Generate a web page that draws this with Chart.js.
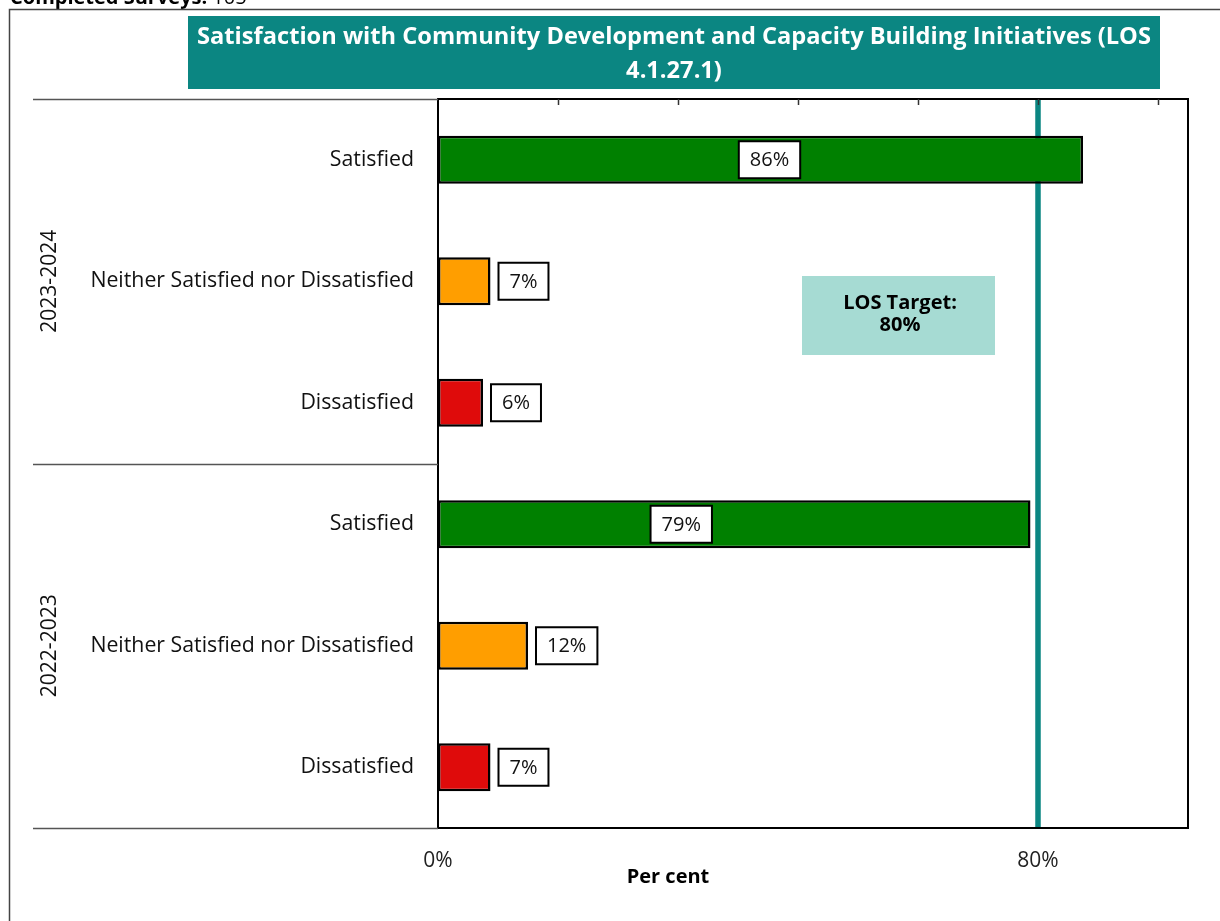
<!DOCTYPE html>
<html>
<head>
<meta charset="utf-8">
<script src="https://cdn.jsdelivr.net/npm/chart.js@4.4.1/dist/chart.umd.min.js"></script>
<style>
  html, body { margin: 0; padding: 0; background: #fff; overflow: hidden; }
  #wrap { width: 1220px; height: 921px; position: relative; }
  canvas { display: block; }
</style>
</head>
<body>
<div id="wrap"><canvas id="chart" width="1220" height="921"></canvas></div>
<script>
// Survey results, one row per response category, newest period first
const categories = [
  'Satisfied', 'Neither Satisfied nor Dissatisfied', 'Dissatisfied',
  'Satisfied', 'Neither Satisfied nor Dissatisfied', 'Dissatisfied'
];
const periods = ['2023-2024', '2022-2023'];
const categoriesPerPeriod = 3;
const shares = [86, 7, 6, 79, 12, 7];
const barColors = ['#008000', '#ff9e00', '#df0b0b', '#008000', '#ff9e00', '#df0b0b'];
const targetValue = 80;
const xTickValues = [0, 16, 32, 48, 64, 80, 96];
const xTickLabels = { 0: '0%', 80: '80%' };
const titleLines = ['Satisfaction with Community Development and Capacity Building Initiatives (LOS', '4.1.27.1)'];
const targetLines = ['LOS Target:', '80%'];
const surveyLabel = 'Completed Surveys:';
const surveyCount = '105';

const FONT = '"Open Sans", "Noto Sans", sans-serif';
const TEAL = '#0b8682';

// nudges (px) for value boxes that sit inside long bars
const insideLabelShift = { 0: 9, 3: -53 };

// pick a font size so that a text run fills a given width
function fitSize(text, weight, width) {
  const c = document.createElement('canvas').getContext('2d');
  c.font = weight + ' 20px ' + FONT;
  return 20 * width / c.measureText(text).width;
}
const catSize = Math.min(21.3, fitSize('Neither Satisfied nor Dissatisfied', 'normal', 324));
const titleSize = fitSize(titleLines[0], 'bold', 954);

const decorations = {
  id: 'decorations',
  beforeDraw(chart) {
    const ctx = chart.ctx;
    ctx.save();
    ctx.fillStyle = '#fff';
    ctx.fillRect(0, 0, chart.width, chart.height);

    // survey count heading (clipped by the top of the page)
    ctx.fillStyle = '#000';
    ctx.textBaseline = 'alphabetic';
    ctx.textAlign = 'left';
    ctx.font = 'bold 20px ' + FONT;
    ctx.fillText(surveyLabel, 10, 4);
    const w = ctx.measureText(surveyLabel + ' ').width;
    ctx.font = '20px ' + FONT;
    ctx.fillText(surveyCount, 10 + w, 4);

    // outer frame
    ctx.strokeStyle = '#444';
    ctx.lineWidth = 1.5;
    ctx.beginPath();
    ctx.moveTo(9.5, chart.height);
    ctx.lineTo(9.5, 9.5);
    ctx.lineTo(chart.width, 9.5);
    ctx.stroke();

    // title banner
    ctx.fillStyle = TEAL;
    ctx.fillRect(188, 16, 972, 73);
    ctx.fillStyle = '#fff';
    ctx.font = 'bold ' + titleSize.toFixed(2) + 'px ' + FONT;
    ctx.textAlign = 'center';
    ctx.textBaseline = 'middle';
    ctx.fillText(titleLines[0], 674, 37);
    ctx.fillText(titleLines[1], 674, 71);
    ctx.restore();
  },
  beforeDatasetsDraw(chart) {
    const { ctx, chartArea, scales } = chart;
    const x = scales.x.getPixelForValue(targetValue);
    ctx.save();
    ctx.strokeStyle = TEAL;
    ctx.lineWidth = 5.5;
    ctx.beginPath();
    ctx.moveTo(x, chartArea.top);
    ctx.lineTo(x, chartArea.bottom);
    ctx.stroke();
    ctx.restore();
  },
  afterDatasetsDraw(chart) {
    const { ctx, chartArea, scales } = chart;
    const xs = scales.x, ys = scales.y;
    ctx.save();

    // value boxes
    ctx.font = '20px ' + FONT;
    ctx.textBaseline = 'middle';
    ctx.textAlign = 'center';
    const meta = chart.getDatasetMeta(0);
    meta.data.forEach((bar, i) => {
      const txt = shares[i] + '%';
      const tw = ctx.measureText(txt).width;
      const bw = tw + 22, bh = 37;
      let cx;
      if (shares[i] >= 50) {
        cx = (xs.getPixelForValue(0) + bar.x) / 2 + (insideLabelShift[i] || 0);
      } else {
        cx = bar.x + 8 + bw / 2;
      }
      const cy = bar.y;
      ctx.fillStyle = '#fff';
      ctx.fillRect(cx - bw / 2, cy - bh / 2, bw, bh);
      ctx.strokeStyle = '#000';
      ctx.lineWidth = 2;
      ctx.strokeRect(cx - bw / 2, cy - bh / 2, bw, bh);
      ctx.fillStyle = '#111';
      ctx.fillText(txt, cx, cy + 1);
    });

    // plot frame
    ctx.strokeStyle = '#000';
    ctx.lineWidth = 2;
    ctx.strokeRect(chartArea.left, chartArea.top, chartArea.right - chartArea.left, chartArea.bottom - chartArea.top);

    // inward tick marks along the top edge
    ctx.strokeStyle = '#333';
    ctx.lineWidth = 1.5;
    xTickValues.forEach(v => {
      if (v === 0) return;
      const px = Math.round(xs.getPixelForValue(v)) + 0.5;
      ctx.beginPath();
      ctx.moveTo(px, chartArea.top);
      ctx.lineTo(px, chartArea.top + 6);
      ctx.stroke();
    });

    // period separators and period labels
    const band = (ys.getPixelForValue(1) - ys.getPixelForValue(0));
    ctx.strokeStyle = '#555';
    ctx.lineWidth = 1.5;
    for (let g = 0; g <= periods.length; g++) {
      const idx = g * categoriesPerPeriod;
      const y = Math.round(ys.getPixelForValue(idx) - band / 2) + 0.5;
      ctx.beginPath();
      ctx.moveTo(33, y);
      ctx.lineTo(chartArea.left, y);
      ctx.stroke();
    }
    ctx.fillStyle = '#111';
    ctx.font = '21px ' + FONT;
    periods.forEach((p, g) => {
      const first = g * categoriesPerPeriod;
      const cy = (ys.getPixelForValue(first) + ys.getPixelForValue(first + categoriesPerPeriod - 1)) / 2;
      ctx.save();
      ctx.translate(50, cy);
      ctx.rotate(-Math.PI / 2);
      ctx.textAlign = 'center';
      ctx.textBaseline = 'middle';
      ctx.fillText(p, 0, 0);
      ctx.restore();
    });

    // target annotation
    ctx.fillStyle = '#a6dbd3';
    ctx.fillRect(802, 276, 193, 79);
    ctx.fillStyle = '#000';
    ctx.font = 'bold 20px ' + FONT;
    ctx.textAlign = 'center';
    ctx.textBaseline = 'middle';
    ctx.fillText(targetLines[0], 900, 303);
    ctx.fillText(targetLines[1], 900, 325);

    // axis title
    ctx.fillText('Per cent', 668, 877);
    ctx.restore();
  }
};

new Chart(document.getElementById('chart'), {
  type: 'bar',
  data: {
    labels: categories,
    datasets: [{
      data: shares,
      backgroundColor: barColors,
      borderColor: '#000',
      borderWidth: 2.5,
      borderSkipped: false,
      categoryPercentage: 1,
      barPercentage: 0.395
    }]
  },
  options: {
    indexAxis: 'y',
    responsive: false,
    animation: false,
    layout: { padding: { top: 99, right: 32, left: 0, bottom: 0 } },
    plugins: { legend: { display: false }, tooltip: { enabled: false }, title: { display: false } },
    scales: {
      x: {
        type: 'linear',
        position: 'bottom',
        min: 0,
        max: 100,
        afterBuildTicks(scale) { scale.ticks = xTickValues.map(v => ({ value: v })); },
        afterFit(scale) { scale.height = 93; },
        grid: { display: false },
        border: { display: false },
        ticks: {
          autoSkip: false,
          maxRotation: 0,
          padding: 12,
          color: '#222',
          font: { family: FONT, size: 21 },
          callback: v => xTickLabels[v] || ''
        }
      },
      y: {
        type: 'category',
        afterFit(scale) { scale.width = 438; },
        grid: { display: false },
        border: { display: false },
        ticks: {
          padding: 16,
          color: '#111',
          font: { family: FONT, size: catSize }
        }
      }
    }
  },
  plugins: [decorations]
});
</script>
</body>
</html>
